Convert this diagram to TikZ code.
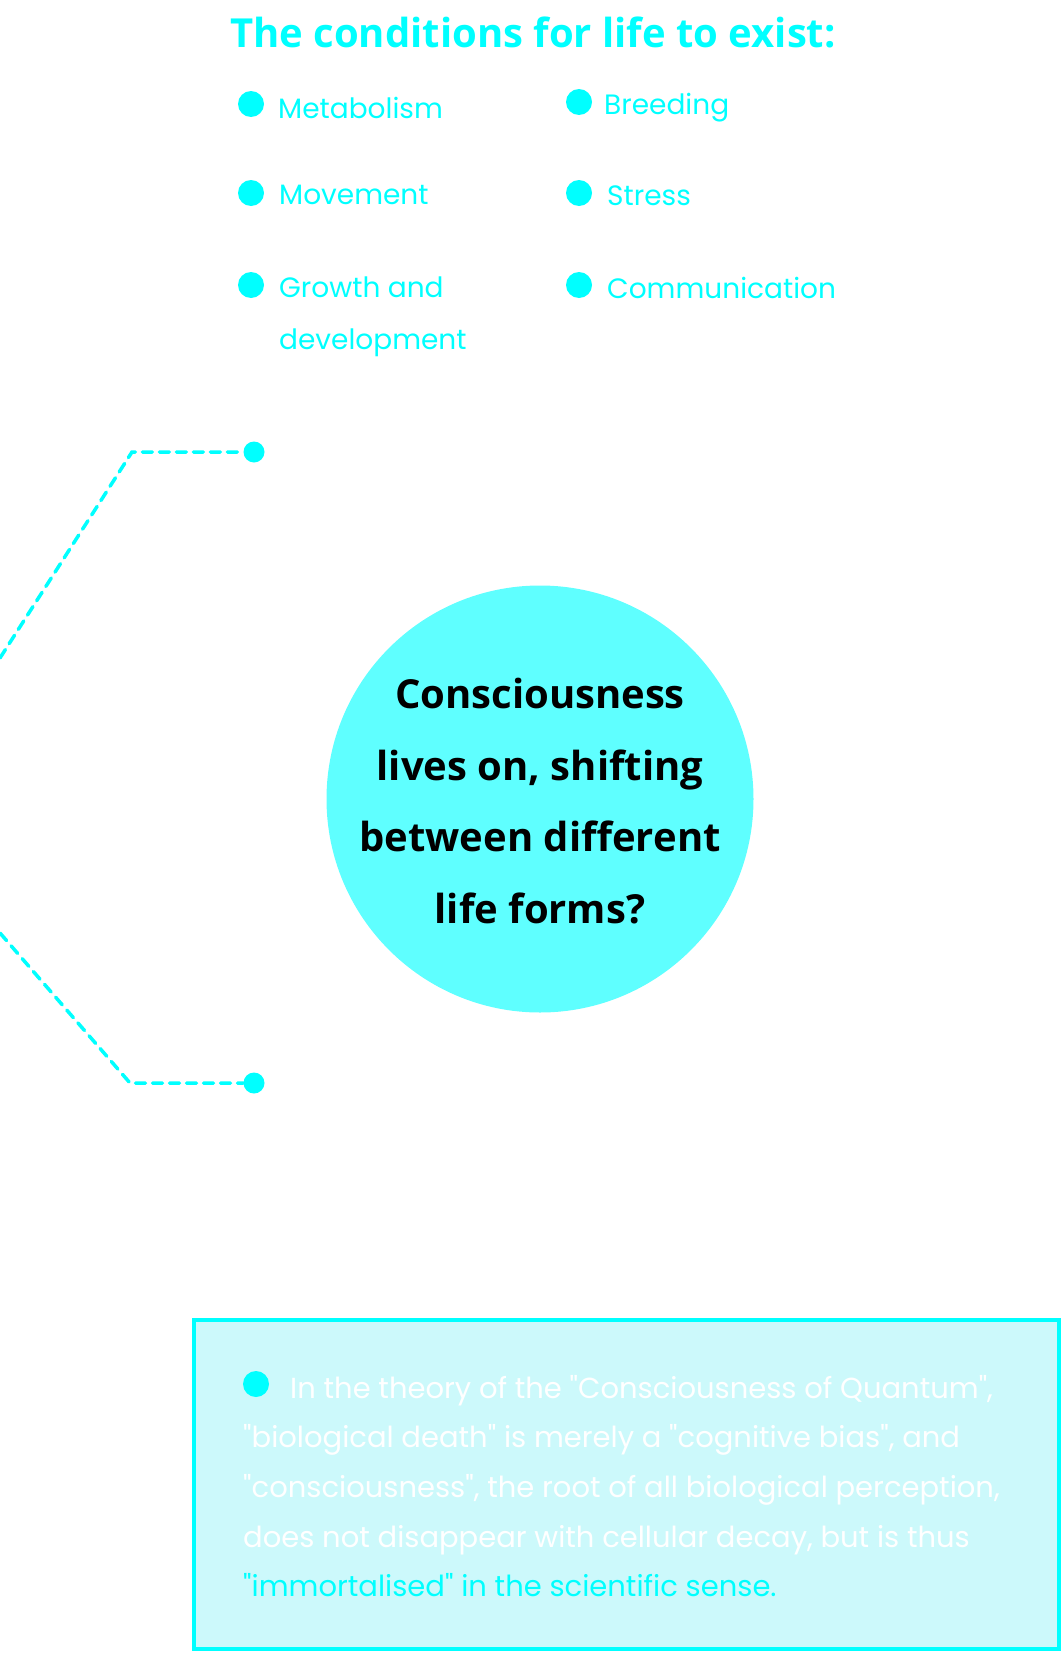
\documentclass[tikz,border=0pt]{standalone}
\usepackage{fontspec}
\newfontfamily\bodyfont{Poppins}
\newfontfamily\headfont{Open Sans}
\usetikzlibrary{positioning}
\definecolor{aqua}{RGB}{0,255,255}
\definecolor{bubble}{RGB}{95,255,255}
\definecolor{panel}{RGB}{204,249,251}
\tikzset{
  bul/.style   ={circle, fill=aqua, inner sep=0pt, minimum size=26pt},
  knob/.style  ={circle, fill=aqua, inner sep=0pt, minimum size=21pt},
  cond/.style  ={anchor=base west, inner sep=0pt, text=aqua, font=\bodyfont\fontsize{28}{52}\selectfont},
  faint/.style ={anchor=north west, inner sep=0pt, align=left, text=white, font=\bodyfont\fontsize{29}{53}\selectfont},
  link/.style  ={draw=aqua, line width=3.5pt, dash pattern=on 10pt off 7pt, line cap=round},
}

\begin{document}
\begin{tikzpicture}[x=1pt, y=-1pt]
  \useasboundingbox (0,0) rectangle (1062,1654);
  \node[anchor=base west, inner sep=0pt, text=aqua, font=\headfont\bfseries\fontsize{40}{48}\selectfont] (title) at (230,48) {The conditions for life to exist:};

  \node[bul] (b1) at (251,104) {}; \node[cond] (metab) at (278,118) {Metabolism};
  \node[bul] (b2) at (251,193) {}; \node[cond] (move) at (279,204) {Movement};
  \node[bul] (b3) at (251,285) {}; \node[cond, anchor=north west, align=left] (grow) at (279,277) {Growth and\\development};
  \node[bul] (b4) at (579,102) {}; \node[cond] (breed) at (604,114) {Breeding};
  \node[bul] (b5) at (579,193) {}; \node[cond] (stress) at (607,205) {Stress};
  \node[bul] (b6) at (579,285) {}; \node[cond] (comm) at (607,298) {Communication};

  \coordinate (up0) at (0,658);
  \coordinate (up1) at (132,452);
  \node[knob] (upper) at (254,452) {};
  \draw[link] (up0) -- (up1) -- (upper);
  \node[faint] (tradition) at (287,440) {This is the traditional perception of\\entities that are not conscious or\\inanimate.};

  \node[circle, fill=bubble, inner sep=0pt, minimum size=427pt] (core) at (540,799) {};
  \node[align=center, font=\headfont\bfseries\fontsize{40}{71.5}\selectfont] (question) at (540,801) {Consciousness\\lives on, shifting\\between different\\life forms?};

  \coordinate (lo0) at (0,933);
  \coordinate (lo1) at (130,1083);
  \node[knob] (lower) at (254,1083) {};
  \draw[link] (lo0) -- (lo1) -- (lower);
  \node[faint] (sentient) at (287,1075) {Is there a basis in reality to support\\the speculation that they are really\\sentient life forms?};

  \node[draw=aqua, line width=4pt, fill=panel, minimum width=865pt, minimum height=329pt, inner sep=0pt] (theory) at (626.5,1484.5) {};
  \node[bul] (b7) at (256,1384) {};
  \node[faint, font=\bodyfont\fontsize{29}{49.6}\selectfont] (quantum) at (243,1375) {\hspace*{47pt}In the theory of the "Consciousness of Quantum",\\"biological death" is merely a "cognitive bias", and\\"consciousness", the root of all biological perception,\\does not disappear with cellular decay, but is thus\\\textcolor{aqua}{"immortalised" in the scientific sense.}};
\end{tikzpicture}
\end{document}
